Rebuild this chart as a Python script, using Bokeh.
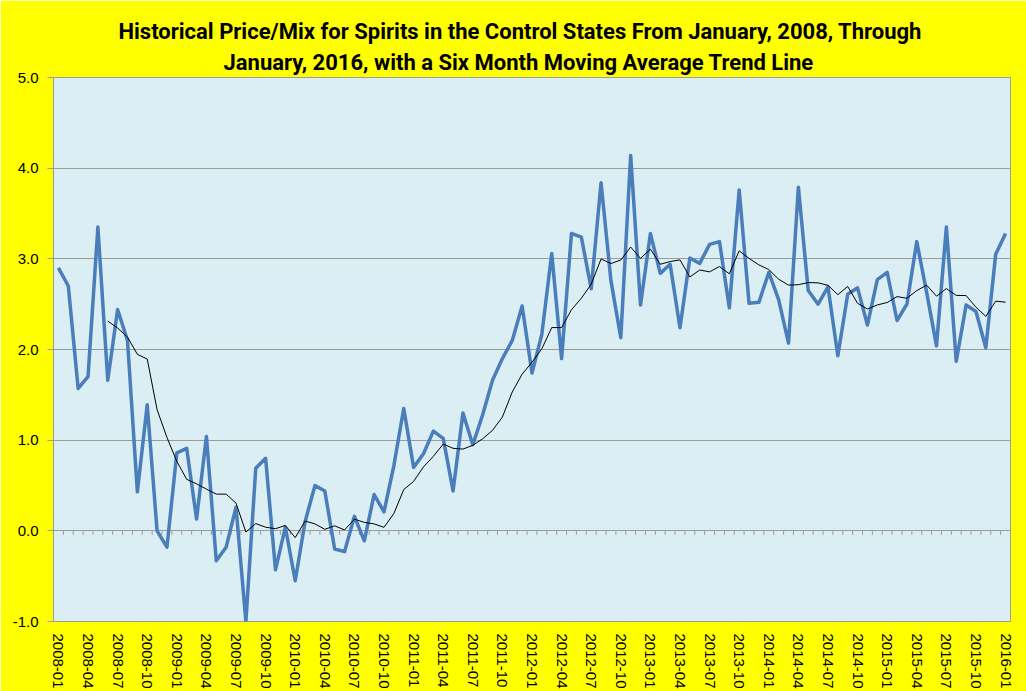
import pandas as pd
from bokeh.plotting import figure
from bokeh.models import Range1d, FixedTicker, Title, ColumnDataSource, PrintfTickFormatter
from bokeh.embed import file_html
from bokeh.resources import INLINE

# ---------------- data ----------------
months = [f"{y}-{m:02d}" for y in range(2008, 2017) for m in range(1, 13)][:97]

price_mix = [
    2.90, 2.70, 1.57, 1.70, 3.35, 1.66, 2.44, 2.10, 0.43, 1.39, 0.00, -0.18,   # 2008
    0.86, 0.91, 0.13, 1.04, -0.33, -0.18, 0.26, -1.00, 0.69, 0.80, -0.43, 0.04,  # 2009
    -0.55, 0.10, 0.50, 0.44, -0.20, -0.23, 0.16, -0.11, 0.40, 0.21, 0.72, 1.35,  # 2010
    0.70, 0.85, 1.10, 1.02, 0.44, 1.30, 0.95, 1.28, 1.66, 1.90, 2.10, 2.48,      # 2011
    1.74, 2.17, 3.06, 1.90, 3.28, 3.24, 2.67, 3.84, 2.76, 2.13, 4.14, 2.49,      # 2012
    3.28, 2.84, 2.94, 2.24, 3.01, 2.95, 3.16, 3.19, 2.46, 3.76, 2.51, 2.52,      # 2013
    2.85, 2.55, 2.07, 3.79, 2.65, 2.50, 2.69, 1.93, 2.61, 2.68, 2.27, 2.77,      # 2014
    2.85, 2.32, 2.50, 3.19, 2.63, 2.04, 3.35, 1.87, 2.49, 2.42, 2.02, 3.05,      # 2015
    3.28,                                                                          # 2016-01
]

y_ticks = [-1.0, 0.0, 1.0, 2.0, 3.0, 4.0, 5.0]
label_every = 3

title_line1 = "Historical Price/Mix for Spirits in the Control States From January, 2008, Through"
title_line2 = "January, 2016, with a Six Month Moving Average Trend Line"

# six month moving average trend line (as the chart's trendline defines it)
moving_avg = pd.Series(price_mix).rolling(6).mean().tolist()

idx = list(range(len(months)))
src = ColumnDataSource(dict(x=idx, v=price_mix, ma=moving_avg))

# category boundaries (tick marks on the axis crossing at zero)
bounds = [i - 0.5 for i in idx] + [idx[-1] + 0.5]

# ---------------- figure ----------------
YELLOW = "#FFFF00"
PLOT_BG = "#DAEEF3"
GRID = "#9C9C9C"
TXT_FONT = "Liberation Sans"
TITLE_FONT = "Roboto"

FRAME_W, FRAME_H = 957, 544
y0, y1 = -1, 5

p = figure(frame_width=FRAME_W, frame_height=FRAME_H,
           x_range=Range1d(-0.5, len(months) - 0.5), y_range=Range1d(y0, y1),
           output_backend="svg", toolbar_location=None, tools="",
           min_border_left=53, min_border_right=16, min_border_top=77, min_border_bottom=70,
           background_fill_color=PLOT_BG, border_fill_color=YELLOW,
           outline_line_color=GRID, outline_line_width=1,
           title=title_line1)

p.title.align = "left"
p.title.offset = 65
p.title.text_font = TITLE_FONT
p.title.text_font_size = "22px"
p.title.text_font_style = "bold"
p.title.text_color = "#000000"
p.title.standoff = 4
p.add_layout(Title(text=title_line2, align="left", offset=170, text_font=TITLE_FONT,
                   text_font_size="22px", text_font_style="bold", text_color="#000000",
                   standoff=5), "above")

# y axis
ya = p.yaxis[0]
ya.ticker = FixedTicker(ticks=y_ticks)
ya.formatter = PrintfTickFormatter(format="%.1f")
ya.axis_line_color = GRID
ya.major_tick_line_color = GRID
ya.major_tick_out = 6
ya.major_tick_in = 0
ya.minor_tick_line_color = None
ya.major_label_standoff = 9
ya.major_label_text_font = TXT_FONT
ya.major_label_text_font_size = "15px"
ya.major_label_text_color = "#000000"

p.ygrid.ticker = FixedTicker(ticks=y_ticks)
p.ygrid.grid_line_color = GRID
p.ygrid.grid_line_width = 1
p.xgrid.visible = False

# x labels axis (bottom)
xa = p.xaxis[0]
xa.ticker = FixedTicker(ticks=idx[::label_every])
xa.major_label_overrides = {i: months[i] for i in idx[::label_every]}
xa.major_label_orientation = "vertical"
xa.axis_line_color = None
xa.major_tick_line_color = None
xa.minor_tick_line_color = None
xa.major_label_standoff = 6
xa.major_label_text_font = TXT_FONT
xa.major_label_text_font_size = "15px"
xa.major_label_text_color = "#000000"

# tick marks hanging from the zero line between categories (4 px long)
tick_len = 4 * (y1 - y0) / FRAME_H
p.segment(x0=bounds, y0=[0] * len(bounds), x1=bounds, y1=[-tick_len] * len(bounds),
          line_color=GRID, line_width=1)

# series
p.line("x", "v", source=src, line_color="#4A7EBB", line_width=3.5, line_join="round")
p.line("x", "ma", source=src, line_color="#000000", line_width=1)

open("out.html", "w").write(file_html(p, INLINE))
